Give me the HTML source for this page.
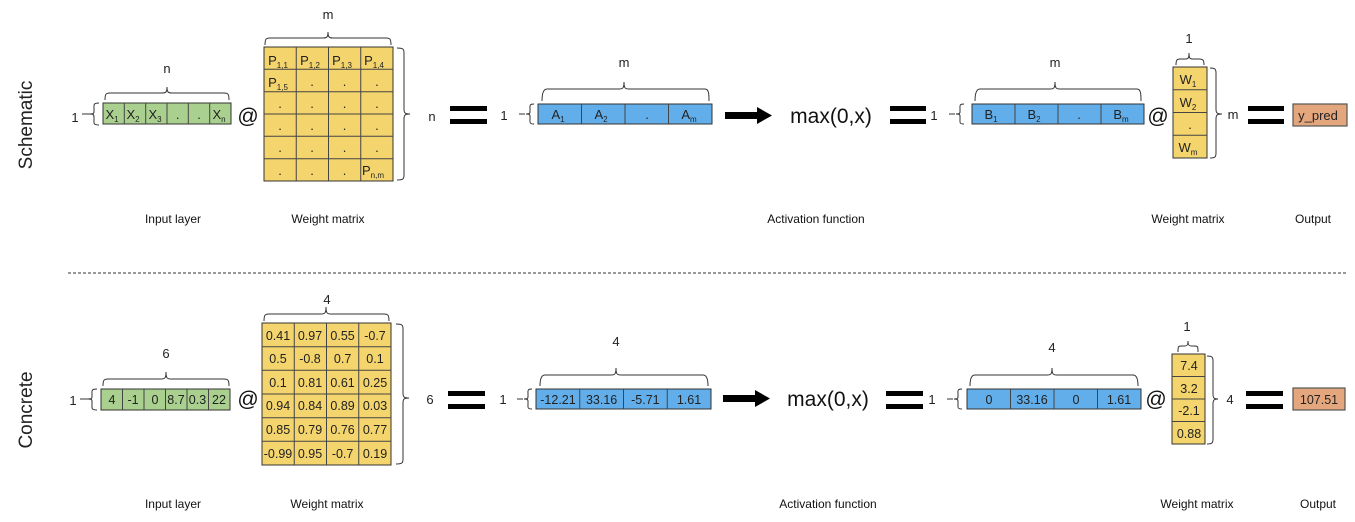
<!DOCTYPE html>
<html><head><meta charset="utf-8"><style>
html,body{margin:0;padding:0;background:#fff;}
svg{display:block;font-family:"Liberation Sans",sans-serif;}
.t{font-size:13px;fill:#222;text-anchor:middle;}
.s{font-size:8px;}
.c{font-size:12.5px;fill:#222;text-anchor:middle;}
.lab{font-size:12px;fill:#111;text-anchor:middle;}
.br{fill:none;stroke:#333;stroke-width:1;}
.g{fill:#a9d08e;stroke:#333;stroke-width:1;}
.y{fill:#f4d46c;stroke:#333;stroke-width:1;}
.b{fill:#62aeea;stroke:#333;stroke-width:1;}
.o{fill:#e4a77d;stroke:#555;stroke-width:1.2;}
.gl{stroke:#444;stroke-width:1;}
</style></head><body>
<svg width="1355" height="522" viewBox="0 0 1355 522">
<!-- side labels -->
<text x="32" y="125" transform="rotate(-90 32 125)" style="font-size:19px;fill:#222;text-anchor:middle">Schematic</text>
<text x="32" y="410" transform="rotate(-90 32 410)" style="font-size:19px;fill:#222;text-anchor:middle">Concrete</text>

<!-- ===== SCHEMATIC ===== -->
<!-- input -->
<text class="t" x="75" y="122">1</text>
<path class="br" d="M82,114 L90,114 M99,103 C93,103 94,105 94,109 L94,112 C94,114 92,114 90,114 C92,114 94,114 94,117 L94,120 C94,123 93,125 99,125"/>
<rect class="g" x="103" y="103" width="128" height="21"/>
<g class="gl"><line x1="124.3" y1="103" x2="124.3" y2="124"/><line x1="145.7" y1="103" x2="145.7" y2="124"/><line x1="167" y1="103" x2="167" y2="124"/><line x1="188.3" y1="103" x2="188.3" y2="124"/><line x1="209.7" y1="103" x2="209.7" y2="124"/></g>
<text class="t" x="112" y="119">X<tspan class="s" dy="3">1</tspan></text>
<text class="t" x="133" y="119">X<tspan class="s" dy="3">2</tspan></text>
<text class="t" x="155" y="119">X<tspan class="s" dy="3">3</tspan></text>
<text class="t" x="177.7" y="119">.</text><text class="t" x="199" y="119">.</text>
<text class="t" x="219" y="119">X<tspan class="s" dy="3">n</tspan></text>
<path class="br" d="M105,100 C105,94 106,93 110,93 L162,93 C166,93 167,92 167,87 C167,92 168,93 172,93 L224,93 C228,93 229,94 229,100"/>
<text class="t" x="167" y="73">n</text>
<text x="248" y="123" style="font-size:21px;fill:#111;text-anchor:middle">@</text>
<!-- matrix -->
<rect class="y" x="264" y="47" width="129" height="134"/>
<g class="gl"><line x1="296.25" y1="47" x2="296.25" y2="181"/><line x1="328.5" y1="47" x2="328.5" y2="181"/><line x1="360.75" y1="47" x2="360.75" y2="181"/>
<line x1="264" y1="69.3" x2="393" y2="69.3"/><line x1="264" y1="91.7" x2="393" y2="91.7"/><line x1="264" y1="114" x2="393" y2="114"/><line x1="264" y1="136.3" x2="393" y2="136.3"/><line x1="264" y1="158.7" x2="393" y2="158.7"/></g>
<text class="t" x="278" y="65">P<tspan class="s" dy="3">1,1</tspan></text>
<text class="t" x="310" y="65">P<tspan class="s" dy="3">1,2</tspan></text>
<text class="t" x="342" y="65">P<tspan class="s" dy="3">1,3</tspan></text>
<text class="t" x="374" y="65">P<tspan class="s" dy="3">1,4</tspan></text>
<text class="t" x="278" y="87">P<tspan class="s" dy="3">1,5</tspan></text>
<g class="t"><text class="t" x="312" y="86">.</text><text class="t" x="344.6" y="86">.</text><text class="t" x="376.9" y="86">.</text>
<text class="t" x="280" y="108">.</text><text class="t" x="312" y="108">.</text><text class="t" x="344.6" y="108">.</text><text class="t" x="376.9" y="108">.</text>
<text class="t" x="280" y="130">.</text><text class="t" x="312" y="130">.</text><text class="t" x="344.6" y="130">.</text><text class="t" x="376.9" y="130">.</text>
<text class="t" x="280" y="152">.</text><text class="t" x="312" y="152">.</text><text class="t" x="344.6" y="152">.</text><text class="t" x="376.9" y="152">.</text>
<text class="t" x="280" y="175">.</text><text class="t" x="312" y="175">.</text><text class="t" x="344.6" y="175">.</text></g>
<text class="t" x="373" y="175">P<tspan class="s" dy="3">n,m</tspan></text>
<path class="br" d="M265,45 C265,39 266,38 270,38 L323,38 C327,38 328,37 328,32 C328,37 329,38 333,38 L386,38 C390,38 391,39 391,45"/>
<text class="t" x="328" y="19">m</text>
<path class="br" d="M397,48 C403,48 404,49 404,53 L404,109 C404,113 405,114 410,114 C405,114 404,115 404,119 L404,175 C404,179 403,180 397,180"/>
<text class="t" x="432" y="121">n</text>
<!-- equals -->
<rect x="450" y="106" width="37" height="5" fill="#000"/><rect x="450" y="119" width="37" height="5" fill="#000"/>
<!-- blue A -->
<text class="t" x="504" y="120">1</text>
<path class="br" d="M519,114 L525,114 M534,104 C529,104 530,106 530,109 L530,112 C530,114 528,114 526,114 C528,114 530,114 530,116 L530,119 C530,122 529,124 534,124"/>
<rect class="b" x="538" y="104" width="174" height="20"/>
<g class="gl"><line x1="581.5" y1="104" x2="581.5" y2="124"/><line x1="625" y1="104" x2="625" y2="124"/><line x1="668.5" y1="104" x2="668.5" y2="124"/></g>
<text class="t" x="558" y="119">A<tspan class="s" dy="3">1</tspan></text>
<text class="t" x="601" y="119">A<tspan class="s" dy="3">2</tspan></text>
<text class="t" x="647" y="119">.</text>
<text class="t" x="689" y="119">A<tspan class="s" dy="3">m</tspan></text>
<path class="br" d="M542,101 C542,95 543,89 547,89 L619,89 C623,89 624,88 624,82 C624,88 625,89 629,89 L705,89 C709,89 709,95 709,101"/>
<text class="t" x="624" y="67">m</text>
<!-- arrow -->
<path d="M725,112 L757,112 L757,107 L772,115.5 L757,124 L757,119 L725,119 Z" fill="#000"/>
<text x="831" y="123" style="font-size:21px;fill:#111;text-anchor:middle">max(0,x)</text>
<rect x="890" y="106" width="36" height="5" fill="#000"/><rect x="890" y="119" width="36" height="5" fill="#000"/>
<!-- blue B -->
<text class="t" x="934" y="120">1</text>
<path class="br" d="M949,114 L955,114 M964,104 C959,104 960,106 960,109 L960,112 C960,114 958,114 956,114 C958,114 960,114 960,116 L960,119 C960,122 959,124 964,124"/>
<rect class="b" x="972" y="104" width="172" height="20"/>
<g class="gl"><line x1="1015" y1="104" x2="1015" y2="124"/><line x1="1058" y1="104" x2="1058" y2="124"/><line x1="1101" y1="104" x2="1101" y2="124"/></g>
<text class="t" x="991" y="119">B<tspan class="s" dy="3">1</tspan></text>
<text class="t" x="1034" y="119">B<tspan class="s" dy="3">2</tspan></text>
<text class="t" x="1079" y="119">.</text>
<text class="t" x="1121" y="119">B<tspan class="s" dy="3">m</tspan></text>
<path class="br" d="M975,101 C975,95 976,89 980,89 L1050,89 C1054,89 1055,88 1055,82 C1055,88 1056,89 1060,89 L1137,89 C1141,89 1141,95 1141,101"/>
<text class="t" x="1055" y="67">m</text>
<text x="1158" y="123" style="font-size:21px;fill:#111;text-anchor:middle">@</text>
<!-- W column -->
<rect class="y" x="1173" y="67" width="34" height="91"/>
<g class="gl"><line x1="1173" y1="89.75" x2="1207" y2="89.75"/><line x1="1173" y1="112.5" x2="1207" y2="112.5"/><line x1="1173" y1="135.25" x2="1207" y2="135.25"/></g>
<text class="t" x="1188" y="84">W<tspan class="s" dy="3">1</tspan></text>
<text class="t" x="1188" y="107">W<tspan class="s" dy="3">2</tspan></text>
<text class="t" x="1190" y="129">.</text>
<text class="t" x="1188" y="152">W<tspan class="s" dy="3">m</tspan></text>
<path class="br" d="M1176,65 C1176,60 1177,59 1180,59 L1186,59 C1188,59 1189,58 1189,53 C1189,58 1190,59 1192,59 L1199,59 C1203,59 1204,60 1204,65"/>
<text class="t" x="1189" y="43">1</text>
<path class="br" d="M1210,68 C1215,68 1216,69 1216,73 L1216,109 C1216,113 1217,114 1222,114 C1217,114 1216,115 1216,119 L1216,153 C1216,157 1215,158 1210,158"/>
<text class="t" x="1233" y="119">m</text>
<rect x="1248" y="106" width="36" height="5" fill="#000"/><rect x="1248" y="119" width="36" height="5" fill="#000"/>
<rect class="o" x="1293" y="104" width="54" height="22"/>
<text class="t" x="1318" y="120">y_pred</text>

<text class="lab" x="173" y="223">Input layer</text>
<text class="lab" x="328" y="223">Weight matrix</text>
<text class="lab" x="816" y="223">Activation function</text>
<text class="lab" x="1188" y="223">Weight matrix</text>
<text class="lab" x="1313" y="223">Output</text>

<line x1="68" y1="273" x2="1347" y2="273" stroke="#333" stroke-width="1" stroke-dasharray="3,2"/>

<!-- ===== CONCRETE ===== -->
<text class="t" x="73" y="405">1</text>
<path class="br" d="M80,399 L88,399 M97,389 C91,389 92,391 92,394 L92,397 C92,399 90,399 88,399 C90,399 92,399 92,401 L92,405 C92,408 91,410 97,410"/>
<rect class="g" x="101" y="389" width="129" height="21"/>
<g class="gl"><line x1="122.5" y1="389" x2="122.5" y2="410"/><line x1="144" y1="389" x2="144" y2="410"/><line x1="165.5" y1="389" x2="165.5" y2="410"/><line x1="187" y1="389" x2="187" y2="410"/><line x1="208.5" y1="389" x2="208.5" y2="410"/></g>
<text class="c" x="112" y="404">4</text><text class="c" x="133" y="404">-1</text><text class="c" x="155" y="404">0</text><text class="c" x="176" y="404">8.7</text><text class="c" x="197.5" y="404">0.3</text><text class="c" x="219" y="404">22</text>
<path class="br" d="M103,386 C103,380 104,379 108,379 L161,379 C165,379 166,378 166,372 C166,378 167,379 171,379 L224,379 C228,379 229,380 229,386"/>
<text class="t" x="166" y="358">6</text>
<text x="248" y="406" style="font-size:21px;fill:#111;text-anchor:middle">@</text>
<rect class="y" x="262" y="323" width="129" height="142"/>
<g class="gl"><line x1="294.25" y1="323" x2="294.25" y2="465"/><line x1="326.5" y1="323" x2="326.5" y2="465"/><line x1="358.75" y1="323" x2="358.75" y2="465"/>
<line x1="262" y1="346.7" x2="391" y2="346.7"/><line x1="262" y1="370.3" x2="391" y2="370.3"/><line x1="262" y1="394" x2="391" y2="394"/><line x1="262" y1="417.7" x2="391" y2="417.7"/><line x1="262" y1="441.3" x2="391" y2="441.3"/></g>
<g>
<text class="c" x="278" y="340">0.41</text><text class="c" x="310" y="340">0.97</text><text class="c" x="342.6" y="340">0.55</text><text class="c" x="375" y="340">-0.7</text>
<text class="c" x="278" y="363">0.5</text><text class="c" x="310" y="363">-0.8</text><text class="c" x="342.6" y="363">0.7</text><text class="c" x="375" y="363">0.1</text>
<text class="c" x="278" y="387">0.1</text><text class="c" x="310" y="387">0.81</text><text class="c" x="342.6" y="387">0.61</text><text class="c" x="375" y="387">0.25</text>
<text class="c" x="278" y="410">0.94</text><text class="c" x="310" y="410">0.84</text><text class="c" x="342.6" y="410">0.89</text><text class="c" x="375" y="410">0.03</text>
<text class="c" x="278" y="434">0.85</text><text class="c" x="310" y="434">0.79</text><text class="c" x="342.6" y="434">0.76</text><text class="c" x="375" y="434">0.77</text>
<text class="c" x="278" y="458">-0.99</text><text class="c" x="310" y="458">0.95</text><text class="c" x="342.6" y="458">-0.7</text><text class="c" x="375" y="458">0.19</text>
</g>
<path class="br" d="M264,321 C264,315 265,314 269,314 L321,314 C325,314 326,313 326,307 C326,313 327,314 331,314 L384,314 C388,314 389,315 389,321"/>
<text class="t" x="327" y="304">4</text>
<path class="br" d="M396,324 C402,324 403,325 403,329 L403,393 C403,397 404,398 409,398 C404,398 403,399 403,403 L403,459 C403,463 402,464 396,464"/>
<text class="t" x="430" y="404">6</text>
<rect x="448" y="391" width="37" height="5" fill="#000"/><rect x="448" y="404" width="37" height="5" fill="#000"/>
<text class="t" x="503" y="404">1</text>
<path class="br" d="M517,399 L523,399 M532,389 C527,389 528,391 528,394 L528,397 C528,399 526,399 524,399 C526,399 528,399 528,401 L528,404 C528,407 527,409 532,409"/>
<rect class="b" x="536" y="389" width="175" height="20"/>
<g class="gl"><line x1="579.75" y1="389" x2="579.75" y2="409"/><line x1="623.5" y1="389" x2="623.5" y2="409"/><line x1="667.25" y1="389" x2="667.25" y2="409"/></g>
<text class="c" x="558" y="404">-12.21</text><text class="c" x="601.6" y="404">33.16</text><text class="c" x="645.4" y="404">-5.71</text><text class="c" x="689" y="404">1.61</text>
<path class="br" d="M540,386 C540,380 541,375 545,375 L611,375 C615,375 616,374 616,368 C616,374 617,375 621,375 L703,375 C707,375 708,380 708,386"/>
<text class="t" x="616" y="346">4</text>
<path d="M723,395 L755,395 L755,390 L770,398.5 L755,407 L755,402 L723,402 Z" fill="#000"/>
<text x="828" y="406" style="font-size:21px;fill:#111;text-anchor:middle">max(0,x)</text>
<rect x="886" y="391" width="37" height="5" fill="#000"/><rect x="886" y="404" width="37" height="5" fill="#000"/>
<text class="t" x="932" y="404">1</text>
<path class="br" d="M947,399 L953,399 M962,389 C957,389 958,391 958,394 L958,397 C958,399 956,399 954,399 C956,399 958,399 958,401 L958,404 C958,407 957,409 962,409"/>
<rect class="b" x="967" y="389" width="174" height="20"/>
<g class="gl"><line x1="1010.5" y1="389" x2="1010.5" y2="409"/><line x1="1054" y1="389" x2="1054" y2="409"/><line x1="1097.5" y1="389" x2="1097.5" y2="409"/></g>
<text class="c" x="989" y="404">0</text><text class="c" x="1032" y="404">33.16</text><text class="c" x="1076" y="404">0</text><text class="c" x="1119" y="404">1.61</text>
<path class="br" d="M970,386 C970,380 971,375 975,375 L1047,375 C1051,375 1052,374 1052,368 C1052,374 1053,375 1057,375 L1133,375 C1137,375 1138,380 1138,386"/>
<text class="t" x="1052" y="352">4</text>
<text x="1156" y="406" style="font-size:21px;fill:#111;text-anchor:middle">@</text>
<rect class="y" x="1172" y="354" width="33" height="90"/>
<g class="gl"><line x1="1172" y1="376.5" x2="1205" y2="376.5"/><line x1="1172" y1="399" x2="1205" y2="399"/><line x1="1172" y1="421.5" x2="1205" y2="421.5"/></g>
<text class="c" x="1189" y="370">7.4</text><text class="c" x="1189" y="393">3.2</text><text class="c" x="1189" y="415">-2.1</text><text class="c" x="1189" y="438">0.88</text>
<path class="br" d="M1178,352 C1178,347 1178,346 1181,346 L1185,346 C1187,346 1188,345 1188,341 C1188,345 1189,346 1191,346 L1195,346 C1198,346 1198,347 1198,352"/>
<text class="t" x="1187" y="331">1</text>
<path class="br" d="M1207,356 C1212,356 1213,357 1213,361 L1213,394 C1213,398 1214,399 1218,399 C1214,399 1213,400 1213,404 L1213,439 C1213,443 1212,444 1207,444"/>
<text class="t" x="1230" y="404">4</text>
<rect x="1246" y="391" width="37" height="5" fill="#000"/><rect x="1246" y="404" width="37" height="5" fill="#000"/>
<rect class="o" x="1293" y="388" width="52" height="22"/>
<text class="c" x="1319" y="404">107.51</text>

<text class="lab" x="173" y="508">Input layer</text>
<text class="lab" x="327" y="508">Weight matrix</text>
<text class="lab" x="828" y="508">Activation function</text>
<text class="lab" x="1197" y="508">Weight matrix</text>
<text class="lab" x="1318" y="508">Output</text>
</svg>
</body></html>
